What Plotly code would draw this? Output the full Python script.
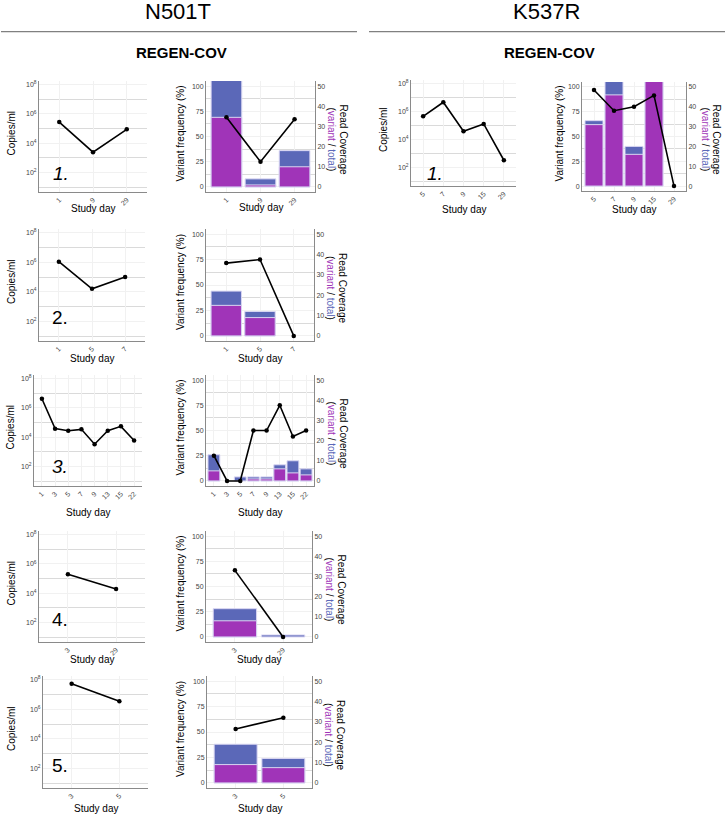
import plotly.graph_objects as go

# ---------------- data ----------------
n501t_1_days = ["1", "9", "29"]
n501t_1_copies = [2.8e5, 2.5e3, 9.0e4]
n501t_1_variant = [34.5, 1, 10]
n501t_1_total = [56, 4, 18]
n501t_1_freq = [69, 25, 67]

n501t_2_days = ["1", "5", "7"]
n501t_2_copies = [1.1e6, 1.6e4, 1.0e5]
n501t_2_variant = [15, 9, 0]
n501t_2_total = [22, 12, 0]
n501t_2_freq = [71.5, 75, 0]

n501t_3_days = ["1", "3", "5", "7", "9", "13", "15", "22"]
n501t_3_copies = [4.3e6, 3.9e4, 2.8e4, 3.5e4, 3.4e3, 2.8e4, 5.6e4, 6.0e3]
n501t_3_variant = [5, 0, 0, 1, 1, 6, 4, 3]
n501t_3_total = [13, 0, 2, 2, 2, 8, 10, 6]
n501t_3_freq = [25, 0, 0, 50, 50, 75, 44, 50]

n501t_4_days = ["3", "29"]
n501t_4_copies = [2.0e5, 2.0e4]
n501t_4_variant = [8, 0]
n501t_4_total = [14, 1]
n501t_4_freq = [66, 0]

n501t_5_days = ["3", "5"]
n501t_5_copies = [5.3e7, 3.5e6]
n501t_5_variant = [9, 7.5]
n501t_5_total = [19, 12]
n501t_5_freq = [53, 64]

k537r_1_days = ["5", "7", "9", "15", "29"]
k537r_1_copies = [4.5e5, 4.6e6, 3.9e4, 1.3e5, 3.3e2]
k537r_1_variant = [31, 46, 16, 56, 0]
k537r_1_total = [33, 56, 20, 56, 0]
k537r_1_freq = [97, 76, 80, 91.5, 0]

copies_tickvals = [1e2, 1e4, 1e6, 1e8]
copies_ticktext = ["10<sup>2</sup>", "10<sup>4</sup>", "10<sup>6</sup>", "10<sup>8</sup>"]
copies_minor = [1e1, 1e3, 1e5, 1e7]
freq_tickvals = [0, 25, 50, 75, 100]
freq_minor = [12.5, 37.5, 62.5, 87.5]
cov_tickvals = [0, 10, 20, 30, 40, 50]

# ---------------- style ----------------
W, H = 726, 816
FONT = "Liberation Sans, Arial, Helvetica, sans-serif"
PURPLE = "#A034B8"
BLUE = "#5B68B8"
BAR_EDGE = "#D9D6F2"
AXIS = "#8A8A8A"
GRID_MAJOR = "#F1F1F1"
GRID_MINOR = "#DADADA"
TICK = "#444444"
TICKFONT = dict(family=FONT, size=7, color=TICK)


def px(x):
    return x / W


def py(y):
    return 1 - y / H


panels = [
    dict(days=n501t_1_days, copies=n501t_1_copies, variant=n501t_1_variant, total=n501t_1_total,
         freq=n501t_1_freq, num="<i>1.</i>", lx=(39, 147), rx=(206, 315), ly=(81, 192), ry=(81, 192),
         sd=(208, 207), numpos=(60.5, 173.5), yl=(11, 180), yr=(343, 331)),
    dict(days=n501t_2_days, copies=n501t_2_copies, variant=n501t_2_variant, total=n501t_2_total,
         freq=n501t_2_freq, num="2.", lx=(39, 145), rx=(206, 314), ly=(229, 341), ry=(229, 341),
         sd=(358, 358), numpos=(60, 318), yl=(11, 180), yr=(343, 331)),
    dict(days=n501t_3_days, copies=n501t_3_copies, variant=n501t_3_variant, total=n501t_3_total,
         freq=n501t_3_freq, num="<i>3.</i>", lx=(34, 142), rx=(206, 314), ly=(375, 486), ry=(375, 486),
         sd=(512, 512), numpos=(60, 466), yl=(10, 180), yr=(343, 331)),
    dict(days=n501t_4_days, copies=n501t_4_copies, variant=n501t_4_variant, total=n501t_4_total,
         freq=n501t_4_freq, num="4.", lx=(39, 145), rx=(206, 312), ly=(531, 642), ry=(531, 642),
         sd=(659, 659), numpos=(60, 619), yl=(11, 180), yr=(341, 329)),
    dict(days=n501t_5_days, copies=n501t_5_copies, variant=n501t_5_variant, total=n501t_5_total,
         freq=n501t_5_freq, num="5.", lx=(43, 148), rx=(207, 312), ly=(676, 788), ry=(676, 788),
         sd=(808, 808), numpos=(60, 765), yl=(11, 180), yr=(341, 329)),
    dict(days=k537r_1_days, copies=k537r_1_copies, variant=k537r_1_variant, total=k537r_1_total,
         freq=k537r_1_freq, num="<i>1.</i>", lx=(411, 516), rx=(582, 686), ly=(80, 186), ry=(82, 191),
         sd=(210, 210), numpos=(435, 173.5), yl=(383, 559), yr=(716, 705)),
]

fig = go.Figure()
layout = {}
annotations = []
counters = {"x": 0, "y": 0}


def new_axis(k):
    counters[k] += 1
    n = counters[k]
    return (k if n == 1 else f"{k}{n}"), (f"{k}axis" if n == 1 else f"{k}axis{n}")


def xaxis_base(days, dom, anchor):
    return dict(domain=[px(dom[0]), px(dom[1])], anchor=anchor, type="category",
                categoryorder="array", categoryarray=days,
                range=[-0.6, len(days) - 1 + 0.6], tickangle=-45, tickfont=TICKFONT,
                showgrid=True, gridcolor=GRID_MAJOR, gridwidth=1, showline=True,
                linecolor=AXIS, linewidth=1, ticks="", zeroline=False, fixedrange=True)


def anno(text, x, y, size=10, angle=0, color="black", **kw):
    annotations.append(dict(text=text, x=px(x), y=py(y), xref="paper", yref="paper",
                            showarrow=False, xanchor="center", yanchor="middle",
                            textangle=angle, font=dict(family=FONT, size=size, color=color), **kw))


for p in panels:
    days = p["days"]
    # ---- left: viral load ----
    xid, xname = new_axis("x")
    yid, yname = new_axis("y")
    layout[xname] = xaxis_base(days, p["lx"], yid)
    layout[yname] = dict(domain=[py(p["ly"][1]), py(p["ly"][0])], anchor=xid, type="log",
                         range=[0.68, 8.25], tickmode="array", tickvals=copies_tickvals,
                         ticktext=copies_ticktext, tickfont=TICKFONT,
                         showgrid=True, gridcolor=GRID_MAJOR, gridwidth=1,
                         minor=dict(tickmode="array", tickvals=copies_minor, showgrid=True,
                                    gridcolor=GRID_MINOR, gridwidth=1, ticks=""),
                         showline=True, linecolor=AXIS, linewidth=1, ticks="",
                         zeroline=False, fixedrange=True)
    fig.add_trace(go.Scatter(x=days, y=p["copies"], xaxis=xid, yaxis=yid, mode="lines+markers",
                             line=dict(color="black", width=1.6),
                             marker=dict(color="black", size=4.5), showlegend=False))

    # ---- right: coverage bars + variant frequency ----
    xid2, xname2 = new_axis("x")
    ybid, ybname = new_axis("y")
    yoid, yoname = new_axis("y")
    layout[xname2] = xaxis_base(days, p["rx"], ybid)
    layout[ybname] = dict(domain=[py(p["ry"][1]), py(p["ry"][0])], anchor=xid2, side="right",
                          range=[-2.5, 52.5], tickmode="array", tickvals=cov_tickvals,
                          tickfont=TICKFONT, showgrid=False, showline=True, linecolor=AXIS,
                          linewidth=1, ticks="", zeroline=False, fixedrange=True)
    layout[yoname] = dict(overlaying=ybid, anchor=xid2, side="left", range=[-5, 105],
                          tickmode="array", tickvals=freq_tickvals, tickfont=TICKFONT,
                          showgrid=True, gridcolor=GRID_MAJOR, gridwidth=1,
                          minor=dict(tickmode="array", tickvals=freq_minor, showgrid=True,
                                     gridcolor=GRID_MINOR, gridwidth=1, ticks=""),
                          showline=True, linecolor=AXIS, linewidth=1, ticks="",
                          zeroline=False, fixedrange=True)
    fig.add_trace(go.Bar(x=days, y=p["total"], xaxis=xid2, yaxis=ybid, width=0.9,
                         marker=dict(color=BLUE,
                                     line=dict(color=BAR_EDGE,
                                               width=[0 if v == 0 else 1 for v in p["total"]])),
                         showlegend=False))
    fig.add_trace(go.Bar(x=days, y=p["variant"], xaxis=xid2, yaxis=ybid, width=0.9,
                         marker=dict(color=PURPLE,
                                     line=dict(color=BAR_EDGE,
                                               width=[0 if v == 0 else 1 for v in p["variant"]])),
                         showlegend=False))
    fig.add_trace(go.Scatter(x=days, y=p["freq"], xaxis=xid2, yaxis=yoid, mode="lines+markers",
                             line=dict(color="black", width=1.6),
                             marker=dict(color="black", size=4.5), showlegend=False))

    # ---- texts ----
    lcx = (p["lx"][0] + p["lx"][1]) / 2
    rcx = (p["rx"][0] + p["rx"][1]) / 2
    lcy = (p["ly"][0] + p["ly"][1]) / 2
    rcy = (p["ry"][0] + p["ry"][1]) / 2
    anno("Study day", lcx, p["sd"][0])
    anno("Study day", rcx, p["sd"][1])
    anno("Copies/ml", p["yl"][0], lcy - 3, angle=-90)
    anno("Variant frequency (%)", p["yl"][1], rcy - 3, angle=-90)
    anno("Read Coverage", p["yr"][0], rcy + 3, angle=90)
    anno(f"(<span style='color:{PURPLE}'>variant</span> / <span style='color:{BLUE}'>total</span>)",
         p["yr"][1], rcy + 3, angle=90)
    anno(p["num"], p["numpos"][0], p["numpos"][1], size=19)

# headers
anno("N501T", 178, 11.5, size=22)
anno("K537R", 546, 11.5, size=22)
anno("<b>REGEN-COV</b>", 182, 52, size=15)
anno("<b>REGEN-COV</b>", 549, 52, size=15)

shapes = [
    dict(type="line", xref="paper", yref="paper", x0=px(1), x1=px(357), y0=py(31.7), y1=py(31.7),
         line=dict(color="#808080", width=1.3)),
    dict(type="line", xref="paper", yref="paper", x0=px(369), x1=px(725), y0=py(31.7), y1=py(31.7),
         line=dict(color="#808080", width=1.3)),
]

fig.update_layout(
    width=W, height=H, autosize=False,
    margin=dict(l=0, r=0, t=0, b=0),
    paper_bgcolor="white", plot_bgcolor="white",
    barmode="overlay", showlegend=False, hovermode=False,
    font=dict(family=FONT, size=10, color="black"),
    annotations=annotations, shapes=shapes,
    **layout,
)

# place the fixed-size figure at the page origin (no default 8px body margin)
fig.write_html("out.html", config={"displayModeBar": False},
               post_script="document.body.style.margin='0';document.body.style.padding='0';")
